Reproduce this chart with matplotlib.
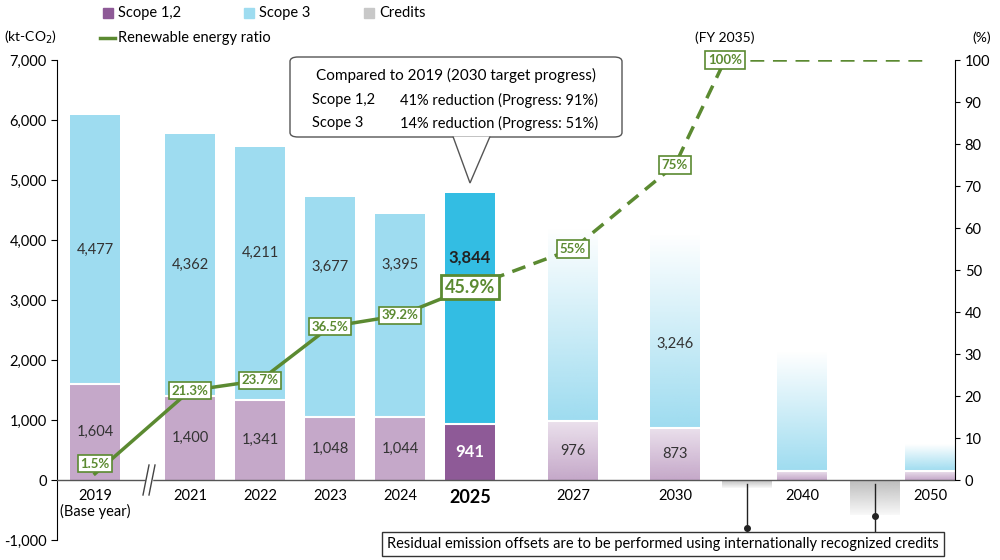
import numpy as np
import matplotlib.pyplot as plt
from matplotlib.patches import Rectangle, FancyBboxPatch, Polygon
from matplotlib.lines import Line2D

plt.rcParams['font.family'] = ['Lato', 'DejaVu Sans']

# données
years = ["2019", "2021", "2022", "2023", "2024", "2025", "2027", "2030", "2040", "2050"]
year_lbl = ["2019\n(Base year)", "2021", "2022", "2023", "2024", "2025", "2027", "2030", "2040", "2050"]
scope12 = [1604, 1400, 1341, 1048, 1044, 941, 976, 873, 150, 150]
scope3 = [4477, 4362, 4211, 3677, 3395, 3844, 3224, 3246, 2000, 450]
scope12_lbl = ["1,604", "1,400", "1,341", "1,048", "1,044", "941", "976", "873", "", ""]
scope3_lbl = ["4,477", "4,362", "4,211", "3,677", "3,395", "3,844", "", "3,246", "", ""]
credits_years = ["2040", "2050"]
credits = [-130, -580]
ratio_years = ["2019", "2021", "2022", "2023", "2024", "2025"]
ratio = [1.5, 21.3, 23.7, 36.5, 39.2, 45.9]
ratio_plan_years = ["2025", "2027", "2030", "2035", "2050"]
ratio_plan = [45.9, 55, 75, 100, 100]

# positions (échelle en pixels)
xpos = {"2019": 95, "2021": 190, "2022": 260, "2023": 330, "2024": 400, "2025": 470,
        "2027": 573, "2030": 675, "2035": 725, "2040": 802, "2050": 930}
credit_x = {"2040": 747, "2050": 875}
lbl_frac = [0.5, 0.5, 0.58, 0.68, 0.75, 0.72, 0.5, 0.43, 0.5, 0.5]
W = 50
c12, c3 = "#c5a8c9", "#9edcf0"
c12_now, c3_now = "#8e5a97", "#33bde3"
green = "#5b8a31"

fig = plt.figure(figsize=(10, 5.6), dpi=100)
ax = fig.add_axes([0.057, 20 / 560, 0.898, 480 / 560])
ax.set_xlim(57, 955)
ax.set_ylim(-1000, 7000)

def grad_bar(x, y0, h, color, top_alpha=0.0, bot_alpha=1.0):
    rgb = plt.matplotlib.colors.to_rgb(color)
    img = np.zeros((100, 1, 4))
    img[..., :3] = rgb
    img[:, 0, 3] = np.linspace(top_alpha, bot_alpha, 100)
    ax.imshow(img, extent=[x - W / 2, x + W / 2, y0, y0 + h], aspect='auto', zorder=2)

for i, y in enumerate(years):
    x = xpos[y]
    future = i >= 6
    if not future:
        a, b = (c12_now, c3_now) if y == "2025" else (c12, c3)
        ax.bar(x, scope12[i], W, color=a, zorder=2)
        ax.bar(x, scope3[i], W, bottom=scope12[i], color=b, zorder=2)
    else:
        grad_bar(x, 0, scope12[i], c12, 0.35, 1.0)
        grad_bar(x, scope12[i], scope3[i], c3, 0.0, 1.0)
    ax.plot([x - W / 2, x + W / 2], [scope12[i]] * 2, color="white", lw=1.5, zorder=3)
    ly = scope12[i] + scope3[i] * lbl_frac[i]
    if y == "2025":
        ax.text(x, scope12[i] / 2, scope12_lbl[i], ha="center", va="center", color="white", fontsize=12, fontweight="bold", zorder=5)
        ax.text(x, ly, scope3_lbl[i], ha="center", va="center", color="#222", fontsize=12, fontweight="bold", zorder=5)
    else:
        ax.text(x, scope12[i] / 2, scope12_lbl[i], ha="center", va="center", color="#333", fontsize=10.5, zorder=5)
        if scope3_lbl[i]:
            ax.text(x, ly, scope3_lbl[i], ha="center", va="center", color="#333", fontsize=10.5, zorder=5)
    # libellé d'année sous la ligne zéro
    bold = y == "2025"
    ax.text(x, -150, year_lbl[i], ha="center", va="top", fontsize=13 if bold else 10.5,
            fontweight="bold" if bold else "normal", linespacing=1.1, zorder=5)

for y, v in zip(credits_years, credits):
    rgb = plt.matplotlib.colors.to_rgb("#bdbdbd")
    img = np.zeros((100, 1, 4)); img[..., :3] = rgb
    img[:, 0, 3] = np.linspace(1.0, 0.1, 100)
    ax.imshow(img, extent=[credit_x[y] - W / 2, credit_x[y] + W / 2, v, 0], aspect='auto', zorder=2)

# ligne énergie renouvelable (axe de droite : 100 % = 7000)
k = 70
rx = [xpos[y] for y in ratio_years]
ax.plot(rx, [r * k for r in ratio], color=green, lw=2.5, zorder=4)
px = [xpos[y] for y in ratio_plan_years]
ax.plot(px, [r * k for r in ratio_plan], color=green, lw=2.5, ls=(0, (4, 2.5)), zorder=4)

def tag(x, y, s, fs=9.5, lw=1.2):
    ax.text(x, y, s, ha="center", va="center", color=green, fontsize=fs, fontweight="bold", zorder=6,
            bbox=dict(boxstyle="square,pad=0.2", fc="white", ec=green, lw=lw))

tag(95, 1.5 * k + 170, "1.5%")
tag(190, 21.3 * k, "21.3%")
tag(260, 23.7 * k, "23.7%")
tag(330, 36.5 * k, "36.5%")
tag(400, 39.2 * k, "39.2%")
tag(470, 45.9 * k, "45.9%", fs=13, lw=2)
tag(573, 55 * k, "55%")
tag(675, 75 * k, "75%")
tag(725, 100 * k, "100%")

# axes
ax.spines["top"].set_visible(False)
ax.spines["right"].set_visible(False)
ax.spines["bottom"].set_visible(False)
ax.axhline(0, color="#555", lw=1, zorder=3)
ax.set_yticks(range(-1000, 7001, 1000))
ax.set_yticklabels([f"{v:,}" for v in range(-1000, 7001, 1000)], fontsize=10.5)
ax.tick_params(axis="y", length=4)
ax.set_xticks([])

ax2 = ax.twinx()
ax2.set_ylim(-1000 / k, 100)
ax2.set_yticks(range(0, 101, 10))
ax2.tick_params(labelsize=10.5)
ax2.spines["right"].set_bounds(0, 100)
for s in ["top", "left", "bottom"]:
    ax2.spines[s].set_visible(False)

# coupure d'axe
ax.add_patch(Rectangle((146, -300), 6, 600, color="white", zorder=5, clip_on=False))
for dx in (-3, 3):
    ax.plot([146 + dx, 152 + dx], [-250, 250], color="#444", lw=1, zorder=7, clip_on=False)

fig.text(0.004, 0.925, "(kt-CO$_2$)", fontsize=10)
fig.text(0.972, 0.925, "(%)", fontsize=10)
fig.text(0.725, 0.925, "(FY 2035)", fontsize=10, ha="center")

# légende
fig.patches.append(Rectangle((0.103, 0.967), 0.01, 0.018, color=c12_now, transform=fig.transFigure))
fig.text(0.118, 0.976, "Scope 1,2", fontsize=10.5, va="center")
fig.patches.append(Rectangle((0.244, 0.967), 0.01, 0.018, color=c3, transform=fig.transFigure))
fig.text(0.259, 0.976, "Scope 3", fontsize=10.5, va="center")
fig.patches.append(Rectangle((0.364, 0.967), 0.01, 0.018, color="#c8c8c8", transform=fig.transFigure))
fig.text(0.379, 0.976, "Credits", fontsize=10.5, va="center")
fig.add_artist(Line2D([0.100, 0.115], [0.933, 0.933], color=green, lw=2.5))
fig.text(0.118, 0.933, "Renewable energy ratio", fontsize=10.5, va="center")

# bulle
def fp(x, y):
    return (x / 1000, 1 - y / 560)
x0, y0 = fp(290, 137)
x1, y1 = fp(622, 57)
fig.patches.append(FancyBboxPatch((x0, y0), x1 - x0, y1 - y0, boxstyle="round,pad=0,rounding_size=0.008",
                                  fc="white", ec="#555", lw=1, transform=fig.transFigure))
fig.patches.append(Polygon([fp(453, 136.5), fp(470, 183), fp(490, 136.5)], closed=False, fc="white",
                           ec="#555", lw=1, transform=fig.transFigure))
fig.text(*fp(456, 75), "Compared to 2019 (2030 target progress)", ha="center", va="center", fontsize=11)
fig.text(*fp(312, 100), "Scope 1,2", va="center", fontsize=10.5)
fig.text(*fp(400, 100), "41% reduction (Progress: 91%)", va="center", fontsize=10.5)
fig.text(*fp(312, 123), "Scope 3", va="center", fontsize=10.5)
fig.text(*fp(400, 123), "14% reduction (Progress: 51%)", va="center", fontsize=10.5)

# note du bas
for cx in credit_x.values():
    ax.plot([cx, cx], [-60, -850], color="#222", lw=1, zorder=6, clip_on=False)
    ax.plot(cx, -600 if cx > 800 else -800, "o", color="#222", ms=4, zorder=6)
fig.text(*fp(663, 544), "Residual emission offsets are to be performed using internationally recognized credits",
         ha="center", va="center", fontsize=10.5,
         bbox=dict(boxstyle="square,pad=0.35", fc="white", ec="#333", lw=1))

fig.savefig("out.png", dpi=100)
